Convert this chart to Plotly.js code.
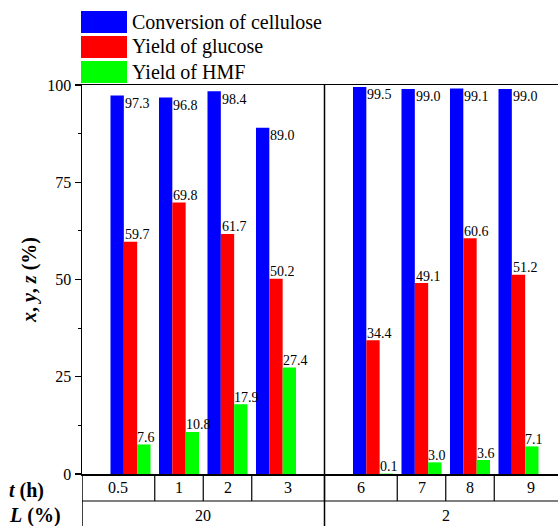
<!DOCTYPE html>
<html>
<head>
<meta charset="utf-8">
<script src="https://cdn.plot.ly/plotly-3.0.1.min.js"></script>
<style>
html, body { margin: 0; padding: 0; overflow: hidden; background: #fff; }
#chart { width: 577px; height: 526px; }
</style>
</head>
<body>
<div id="chart"></div>
<script>
// ---- data ----
var seriesNames = ["Conversion of cellulose", "Yield of glucose", "Yield of HMF"];
var timeLabels = ["0.5", "1", "2", "3", "6", "7", "8", "9"];
var loadingLabels = ["20", "2"];
var loadingCounts = [4, 4];
var conversion = [97.3, 96.8, 98.4, 89.0, 99.5, 99.0, 99.1, 99.0];
var glucose = [59.7, 69.8, 61.7, 50.2, 34.4, 49.1, 60.6, 51.2];
var hmf = [7.6, 10.8, 17.9, 27.4, 0.1, 3.0, 3.6, 7.1];
var colors = ["#0000ff", "#ff0000", "#00ff00"];

// ---- positions (a one-slot gap separates the two loading groups) ----
var pos = [];
var p = 0;
loadingCounts.forEach(function (n, g) {
  for (var i = 0; i < n; i++) { pos.push(p); p++; }
  if (g < loadingCounts.length - 1) p++;
});
var xMin = -1, xMax = p;
var bargap = 0.175;
var barW = (1 - bargap) / 3;

var FONT = "Liberation Serif";
var L = 82, T = 85, B = 52, W = 577, H = 526;
var plotH = H - T - B;
var plotW = W - L - 10;
function py(pix) { return (H - B - pix) / plotH; }
function px(pix) { return (pix - L) / plotW; }

var series = [conversion, glucose, hmf];
var traces = series.map(function (vals, k) {
  return {
    type: "bar", x: pos, y: vals, name: seriesNames[k],
    marker: { color: colors[k], line: { width: 0 } },
    hoverinfo: "y", showlegend: false
  };
});

var annotations = [];
var shapes = [];
var labFont = { family: FONT, size: 14, color: "#000" };

pos.forEach(function (x, i) {
  annotations.push({ x: x - barW / 2, y: conversion[i], xref: "x", yref: "y",
    text: conversion[i].toFixed(1), showarrow: false, xanchor: "left", yanchor: "middle",
    xshift: 1, yshift: -8, borderpad: 0, borderwidth: 0, font: labFont });
  annotations.push({ x: x - barW / 2, y: glucose[i], xref: "x", yref: "y",
    text: glucose[i].toFixed(1), showarrow: false, xanchor: "left", yanchor: "middle",
    xshift: 1, yshift: 7, borderpad: 0, borderwidth: 0, font: labFont });
  annotations.push({ x: x + barW / 2, y: hmf[i], xref: "x", yref: "y",
    text: hmf[i].toFixed(1), showarrow: false, xanchor: "left", yanchor: "middle",
    xshift: 0, yshift: 7, borderpad: 0, borderwidth: 0, font: labFont });
});

// ---- table below the axis ----
var rowSep = py(501);
var bottom = py(530);
var lineStyle = { color: "#000", width: 1.2 };
var bounds = [xMin];
for (var i = 0; i < pos.length - 1; i++) bounds.push((pos[i] + pos[i + 1]) / 2);
bounds.push(xMax);
for (var i = 1; i < bounds.length - 1; i++) {
  shapes.push({ type: "line", xref: "x", yref: "paper", x0: bounds[i], x1: bounds[i], y0: 0, y1: rowSep, line: lineStyle });
}
shapes.push({ type: "line", xref: "x", yref: "paper", x0: xMin, x1: xMax, y0: rowSep, y1: rowSep, line: lineStyle });
shapes.push({ type: "line", xref: "x", yref: "paper", x0: xMin, x1: xMin, y0: 0, y1: bottom, line: { color: "#000", width: 1.5 } });
var groupBounds = [xMin];
var idx = 0;
loadingCounts.forEach(function (n, g) {
  idx += n;
  if (g < loadingCounts.length - 1) {
    var d = (pos[idx - 1] + pos[idx]) / 2;
    groupBounds.push(d);
    shapes.push({ type: "line", xref: "x", yref: "paper", x0: d, x1: d, y0: bottom, y1: 1, line: { color: "#000", width: 1.5 } });
  }
});
groupBounds.push(xMax);

var cellFont = { family: FONT, size: 16, color: "#000" };
timeLabels.forEach(function (t, i) {
  annotations.push({ x: (bounds[i] + bounds[i + 1]) / 2, y: py(488), xref: "x", yref: "paper",
    text: t, showarrow: false, xanchor: "center", yanchor: "middle", font: cellFont });
});
loadingLabels.forEach(function (l, g) {
  annotations.push({ x: (groupBounds[g] + groupBounds[g + 1]) / 2, y: py(515), xref: "x", yref: "paper",
    text: l, showarrow: false, xanchor: "center", yanchor: "middle", font: cellFont });
});
var headFont = { family: FONT, size: 20, color: "#000" };
annotations.push({ x: 0, y: py(490), xref: "paper", yref: "paper", xanchor: "left", yanchor: "middle",
  xshift: -L + 7, text: "<b><i>t</i> (h)</b>", showarrow: false, font: headFont });
annotations.push({ x: 0, y: py(515), xref: "paper", yref: "paper", xanchor: "left", yanchor: "middle",
  xshift: -L + 7, text: "<b><i>L</i> (%)</b>", showarrow: false, font: headFont });

// ---- custom legend (large swatches) ----
seriesNames.forEach(function (n, k) {
  var top = 11 + 25 * k, bot = top + 22;
  shapes.push({ type: "rect", xref: "paper", yref: "paper", x0: px(81), x1: px(127), y0: py(bot), y1: py(top),
    fillcolor: colors[k], line: { width: 0 } });
  annotations.push({ x: px(130), y: py((top + bot) / 2), xref: "paper", yref: "paper", xanchor: "left", yanchor: "middle",
    text: n, showarrow: false, font: headFont });
});

var layout = {
  width: W, height: H,
  margin: { l: L, r: 10, t: T, b: B, pad: 0 },
  paper_bgcolor: "#fff", plot_bgcolor: "#fff",
  barmode: "group", bargap: bargap, bargroupgap: 0,
  showlegend: false,
  font: { family: FONT, color: "#000" },
  xaxis: {
    range: [xMin, xMax], showticklabels: false, ticks: "", showgrid: false, zeroline: false,
    showline: true, linecolor: "#000", linewidth: 1.5, mirror: true, fixedrange: true
  },
  yaxis: {
    range: [0, 100], tickvals: [0, 25, 50, 75, 100], ticks: "outside", ticklen: 6, tickwidth: 1.3,
    tickcolor: "#000", showgrid: false, zeroline: false, showline: true, linecolor: "#000", linewidth: 1.5,
    tickfont: { family: FONT, size: 16, color: "#000" },
    minor: { dtick: 12.5, tick0: 0, ticks: "outside", ticklen: 3, tickwidth: 1.2, tickcolor: "#000", showgrid: false },
    title: { text: "<b><i>x</i>, <i>y</i>, <i>z</i> (%)</b>", font: headFont, standoff: 5 },
    fixedrange: true
  },
  annotations: annotations,
  shapes: shapes
};

Plotly.newPlot("chart", traces, layout, { displayModeBar: false, staticPlot: true });
</script>
</body>
</html>
